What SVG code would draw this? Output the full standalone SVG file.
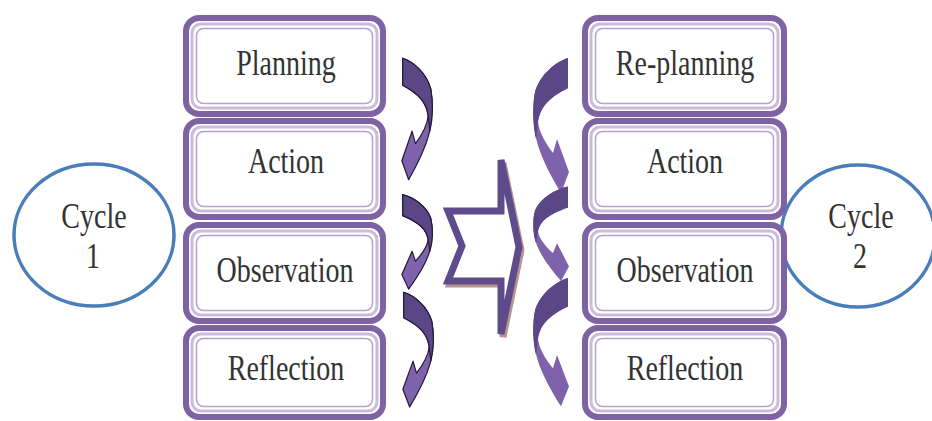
<svg xmlns="http://www.w3.org/2000/svg" xmlns:xlink="http://www.w3.org/1999/xlink" width="932" height="421" viewBox="0 0 932 421">
<style>
.bo{fill:#fff;stroke:#7F62A3;stroke-width:6}
.bi{fill:none;stroke:#C9BCDD;stroke-width:3}
.bj{fill:none;stroke:#B4A2CF;stroke-width:1.5}
.t{font-family:"Liberation Serif","Times New Roman",serif;font-size:28px;fill:#333;text-anchor:middle}
.cy{fill:#fff;stroke:#4A7EBB;stroke-width:3.5}
.dk{fill:#5B4686}
.lt{fill:#7E62AB}
.ol{stroke:#23193a;stroke-width:1.2;vector-effect:non-scaling-stroke;stroke-linejoin:round}
</style>
<defs>
<g id="arrR">
<path class="lt" d="M-2,-2 C-15,2 -30,15 -35,32 C-38,48 -37,66 -33,82 C-28,100 -18,118 -9,133 L-1,112 L-13,79 L-17,93 C-24,84 -31,72 -32,62 C-30,48 -22,38 -2,28 Z"/>
<path class="dk" d="M-2,-2 C-15,2 -30,15 -35,32 C-38,48 -37,66 -34,79 L-32,62 C-30,48 -22,38 -2,28 Z"/>
</g>
<g id="arrL">
<path class="lt ol" d="M-2,-2 C-15,2 -30,15 -35,32 C-38,48 -37,66 -33,82 C-28,100 -18,118 -9,133 L-1,112 L-13,79 L-17,93 C-24,84 -31,72 -32,62 C-30,48 -22,38 -2,28 Z"/>
<path class="dk ol" d="M-2,-2 C-15,2 -30,15 -35,32 C-38,48 -37,66 -34,79 L-32,62 C-30,48 -22,38 -2,28 Z"/>
</g>
</defs>
<rect width="932" height="421" fill="#fff"/>

<g id="cycle1">
<ellipse class="cy" cx="94" cy="235" rx="80" ry="71"/>
<text class="t" transform="translate(94,228) scale(1,1.28)">Cycle</text>
<text class="t" transform="translate(93,268) scale(1,1.28)">1</text>
</g>
<g id="cycle2">
<ellipse class="cy" cx="858" cy="236" rx="77" ry="71"/>
<text class="t" transform="translate(861,228) scale(1,1.28)">Cycle</text>
<text class="t" transform="translate(860,268) scale(1,1.28)">2</text>
</g>

<g id="left-planning">
<rect class="bo" x="186" y="18" width="197" height="96" rx="13"/>
<rect class="bi" x="192" y="24" width="185" height="84" rx="9"/>
<rect class="bj" x="196.5" y="28.5" width="176" height="75" rx="7"/>
<text class="t" transform="translate(286,75) scale(1,1.28)">Planning</text>
</g>
<g id="left-action">
<rect class="bo" x="186" y="121" width="197" height="96" rx="13"/>
<rect class="bi" x="192" y="127" width="185" height="84" rx="9"/>
<rect class="bj" x="196.5" y="131.5" width="176" height="75" rx="7"/>
<text class="t" transform="translate(286,173) scale(1,1.28)">Action</text>
</g>
<g id="left-observation">
<rect class="bo" x="186" y="225" width="197" height="96" rx="13"/>
<rect class="bi" x="192" y="231" width="185" height="84" rx="9"/>
<rect class="bj" x="196.5" y="235.5" width="176" height="75" rx="7"/>
<text class="t" transform="translate(285,282) scale(1,1.28)">Observation</text>
</g>
<g id="left-reflection">
<rect class="bo" x="186" y="328" width="197" height="89" rx="13"/>
<rect class="bi" x="192" y="334" width="185" height="77" rx="9"/>
<rect class="bj" x="196.5" y="338.5" width="176" height="68" rx="7"/>
<text class="t" transform="translate(286,380) scale(1,1.28)">Reflection</text>
</g>

<g id="right-replanning">
<rect class="bo" x="585" y="18" width="199" height="96" rx="13"/>
<rect class="bi" x="591" y="24" width="187" height="84" rx="9"/>
<rect class="bj" x="595.5" y="28.5" width="178" height="75" rx="7"/>
<text class="t" transform="translate(685,75) scale(1,1.28)">Re-planning</text>
</g>
<g id="right-action">
<rect class="bo" x="585" y="121" width="199" height="96" rx="13"/>
<rect class="bi" x="591" y="127" width="187" height="84" rx="9"/>
<rect class="bj" x="595.5" y="131.5" width="178" height="75" rx="7"/>
<text class="t" transform="translate(685,173) scale(1,1.28)">Action</text>
</g>
<g id="right-observation">
<rect class="bo" x="585" y="225" width="199" height="96" rx="13"/>
<rect class="bi" x="591" y="231" width="187" height="84" rx="9"/>
<rect class="bj" x="595.5" y="235.5" width="178" height="75" rx="7"/>
<text class="t" transform="translate(685,282) scale(1,1.28)">Observation</text>
</g>
<g id="right-reflection">
<rect class="bo" x="585" y="328" width="199" height="89" rx="13"/>
<rect class="bi" x="591" y="334" width="187" height="77" rx="9"/>
<rect class="bj" x="595.5" y="338.5" width="178" height="68" rx="7"/>
<text class="t" transform="translate(685,380) scale(1,1.28)">Reflection</text>
</g>

<g id="connectors">
<use xlink:href="#arrL" transform="translate(401,60) scale(-0.85,0.9)"/>
<use xlink:href="#arrL" transform="translate(401,196) scale(-0.85,0.70)"/>
<use xlink:href="#arrL" transform="translate(402,294) scale(-0.85,0.85)"/>
<use xlink:href="#arrR" transform="translate(570,60) scale(1,1)"/>
<use xlink:href="#arrR" transform="translate(570,188) scale(1,0.70)"/>
<use xlink:href="#arrR" transform="translate(570,280) scale(1,0.95)"/>
<g id="transition-arrow">
<polygon points="450,214 503,214 503,163 521,250 503,337 503,284 450,284 464,249" fill="none" stroke="#B8948F" stroke-width="7" stroke-linejoin="miter"/>
<polygon points="448,211 501,211 501,160 519,247 501,334 501,281 448,281 462,246" fill="#fff" stroke="#5E4B8B" stroke-width="7" stroke-linejoin="miter"/>
</g>
</g>
</svg>
